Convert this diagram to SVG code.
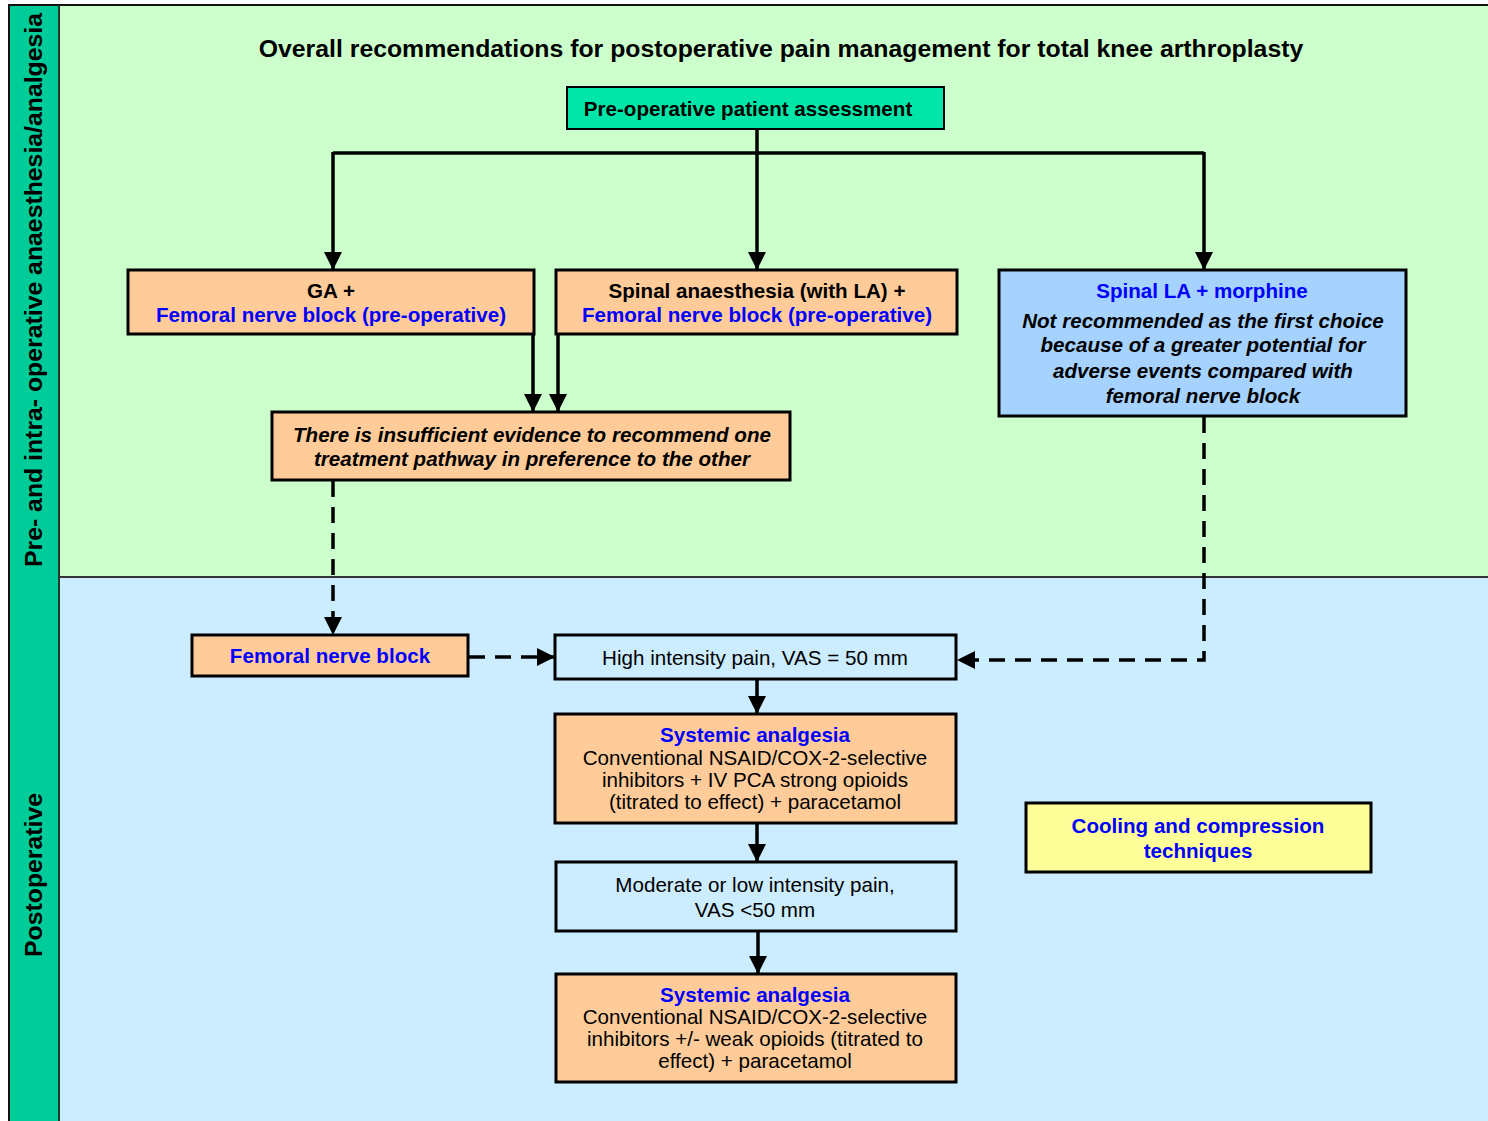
<svg xmlns="http://www.w3.org/2000/svg" width="1488" height="1121" viewBox="0 0 1488 1121">
<defs>
<marker id="ah" markerUnits="userSpaceOnUse" markerWidth="20" markerHeight="20" refX="18" refY="10" orient="auto">
<path d="M0,1 L18,10 L0,19 Z" fill="#000"/>
</marker>
<style>
.box{stroke:#000;stroke-width:3}
.or{fill:#FFCC99}
.lb{fill:#CCECFF}
.t{font-family:"Liberation Sans",Arial,sans-serif;font-size:20.6px;text-anchor:middle;fill:#000}
.b{font-weight:bold}
.i{font-style:italic;font-weight:bold}
.bl{fill:#0000FF;font-weight:bold}
.ln{fill:none;stroke:#000;stroke-width:3.5}
.ds{stroke-dasharray:16 10}
</style>
</defs>
<rect x="0" y="0" width="1488" height="1121" fill="#fff"/>
<g id="regions">
<rect x="59" y="5" width="1429" height="572" fill="#CCFFCC"/>
<rect x="59" y="577" width="1429" height="544" fill="#CCECFF"/>
<rect x="9" y="5" width="50" height="1116" fill="#00CC99"/>
<line x1="8" y1="5" x2="1488" y2="5" stroke="#111" stroke-width="2"/>
<line x1="9" y1="4" x2="9" y2="1121" stroke="#111" stroke-width="2"/>
<line x1="59" y1="5" x2="59" y2="1121" stroke="#1a3a2a" stroke-width="2"/>
<line x1="59" y1="577" x2="1488" y2="577" stroke="#333" stroke-width="2"/>
<text class="t b" transform="translate(42,290) rotate(-90)" style="font-size:24.8px">Pre- and intra- operative anaesthesia/analgesia</text>
<text class="t b" transform="translate(42,875) rotate(-90)" style="font-size:24.8px">Postoperative</text>
</g>
<text id="title" class="t b" x="781" y="57" style="font-size:24.8px">Overall recommendations for postoperative pain management for total knee arthroplasty</text>
<g id="connectors">
<path class="ln" d="M757,129 V153"/>
<path class="ln" d="M333,153 H1204"/>
<path class="ln" d="M333,152 V270" marker-end="url(#ah)"/>
<path class="ln" d="M757,153 V270" marker-end="url(#ah)"/>
<path class="ln" d="M1204,152 V270" marker-end="url(#ah)"/>
<path class="ln" d="M533,334 V412" marker-end="url(#ah)"/>
<path class="ln" d="M558,334 V412" marker-end="url(#ah)"/>
<path class="ln ds" d="M333,481 V635" marker-end="url(#ah)"/>
<path class="ln ds" d="M469,657 H555" marker-end="url(#ah)"/>
<path class="ln ds" d="M1204,417 V660 H957" marker-end="url(#ah)"/>
<path class="ln" d="M757,679 V714" marker-end="url(#ah)"/>
<path class="ln" d="M757,823 V862" marker-end="url(#ah)"/>
<path class="ln" d="M758,931 V974" marker-end="url(#ah)"/>
</g>
<g id="n-assess">
<rect class="box" x="567" y="87" width="377" height="42" fill="#00E6A8" style="stroke-width:2"/>
<text class="t b" x="748" y="116">Pre-operative patient assessment</text>
</g>
<g id="n-ga">
<rect class="box or" x="128" y="270" width="406" height="64"/>
<text class="t b" x="331" y="298">GA +</text>
<text class="t bl" x="331" y="322">Femoral nerve block (pre-operative)</text>
</g>
<g id="n-spinal">
<rect class="box or" x="556" y="270" width="401" height="64"/>
<text class="t b" x="757" y="298">Spinal anaesthesia (with LA) +</text>
<text class="t bl" x="757" y="322">Femoral nerve block (pre-operative)</text>
</g>
<g id="n-spinalla">
<rect class="box" x="999" y="270" width="407" height="146" fill="#A6D2FF"/>
<text class="t bl" x="1202" y="298">Spinal LA + morphine</text>
<text class="t i" x="1203" y="328">Not recommended as the first choice</text>
<text class="t i" x="1203" y="352">because of a greater potential for</text>
<text class="t i" x="1203" y="378">adverse events compared with</text>
<text class="t i" x="1203" y="403">femoral nerve block</text>
</g>
<g id="n-insuff">
<rect class="box or" x="272" y="412" width="518" height="68"/>
<text class="t i" x="532" y="442">There is insufficient evidence to recommend one</text>
<text class="t i" x="532" y="466">treatment pathway in preference to the other</text>
</g>
<g id="n-fnb">
<rect class="box or" x="192" y="635" width="276" height="41"/>
<text class="t bl" x="330" y="663">Femoral nerve block</text>
</g>
<g id="n-high">
<rect class="box lb" x="555" y="635" width="401" height="44"/>
<text class="t" x="755" y="665">High intensity pain, VAS = 50 mm</text>
</g>
<g id="n-sys1">
<rect class="box or" x="555" y="714" width="401" height="109"/>
<text class="t bl" x="755" y="742">Systemic analgesia</text>
<text class="t" x="755" y="765">Conventional NSAID/COX-2-selective</text>
<text class="t" x="755" y="787">inhibitors + IV PCA strong opioids</text>
<text class="t" x="755" y="809">(titrated to effect) + paracetamol</text>
</g>
<g id="n-mod">
<rect class="box lb" x="556" y="862" width="400" height="69"/>
<text class="t" x="755" y="892">Moderate or low intensity pain,</text>
<text class="t" x="755" y="917">VAS &lt;50 mm</text>
</g>
<g id="n-sys2">
<rect class="box or" x="556" y="974" width="400" height="108"/>
<text class="t bl" x="755" y="1002">Systemic analgesia</text>
<text class="t" x="755" y="1024">Conventional NSAID/COX-2-selective</text>
<text class="t" x="755" y="1046">inhibitors +/- weak opioids (titrated to</text>
<text class="t" x="755" y="1068">effect) + paracetamol</text>
</g>
<g id="n-cool">
<rect class="box" x="1026" y="803" width="345" height="69" fill="#FFFF99"/>
<text class="t bl" x="1198" y="833">Cooling and compression</text>
<text class="t bl" x="1198" y="858">techniques</text>
</g>
</svg>
